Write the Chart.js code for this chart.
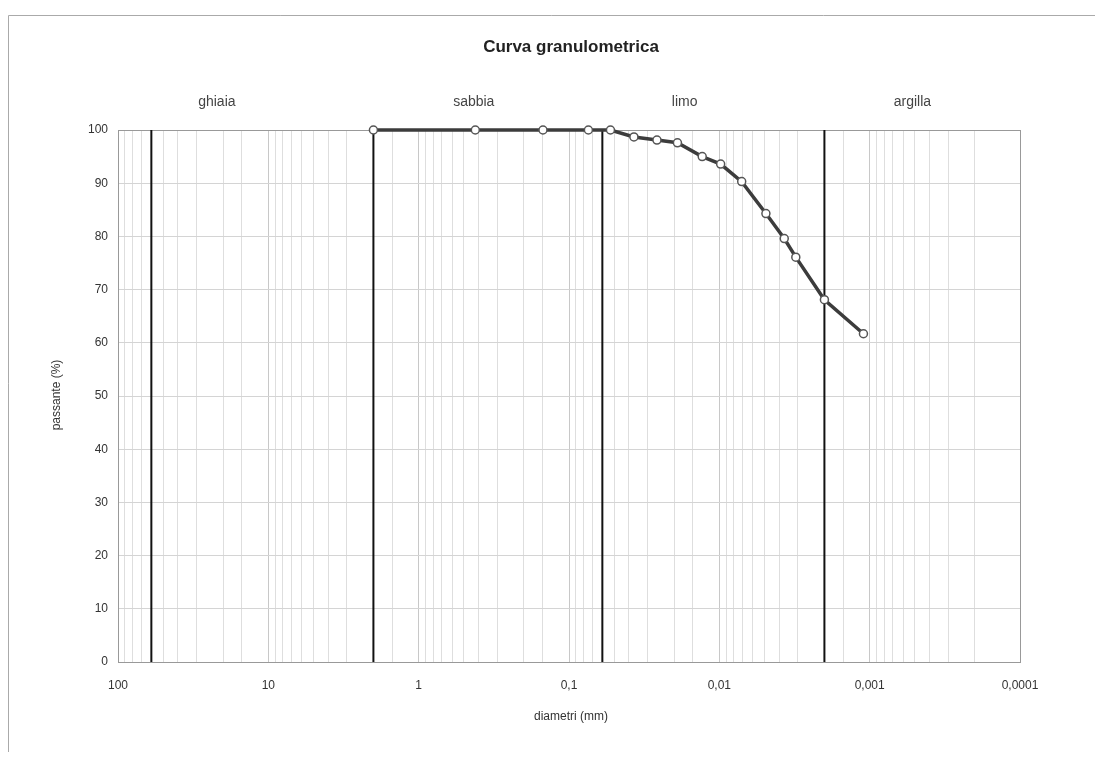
<!DOCTYPE html>
<html>
<head>
<meta charset="utf-8">
<script src="https://cdn.jsdelivr.net/npm/chart.js@4.4.1/dist/chart.umd.min.js"></script>
<style>
html,body{margin:0;padding:0;background:#fff;}
#wrap{width:1107px;height:767px;position:relative;}
</style>
</head>
<body>
<div id="wrap"><canvas id="c" width="1107" height="767"></canvas></div>
<script>
// ---- data ----
const diameters = [2, 0.42, 0.149, 0.0743, 0.053, 0.037, 0.026, 0.019, 0.013, 0.0098, 0.0071, 0.0049, 0.0037, 0.0031, 0.0020, 0.0011];
const passante  = [100, 100, 100, 100, 100, 98.7, 98.1, 97.6, 95.0, 93.6, 90.3, 84.3, 79.6, 76.1, 68.1, 61.7];
const boundaries = [60, 2, 0.06, 0.002];
const classNames = ['ghiaia', 'sabbia', 'limo', 'argilla'];
const classLabelPos = [22, 0.43, 0.017, 0.00052];
const xTickValues = [100, 10, 1, 0.1, 0.01, 0.001, 0.0001];
const xTickLabels = ['100', '10', '1', '0,1', '0,01', '0,001', '0,0001'];
const yTickStep = 10;
const chartTitle = 'Curva granulometrica';
const xTitle = 'diametri (mm)';
const yTitle = 'passante (%)';

const FONT = '"Liberation Sans", Arial, sans-serif';

const datasets = [];
boundaries.forEach(b => {
  datasets.push({
    data: [{x: b, y: 0}, {x: b, y: 100}],
    borderColor: '#111', borderWidth: 2, pointRadius: 0, tension: 0, order: 2
  });
});
datasets.push({
  data: diameters.map((d, i) => ({x: d, y: passante[i]})),
  borderColor: '#3c3c3c', borderWidth: 3.5, tension: 0,
  pointRadius: 4, pointBackgroundColor: '#fff', pointBorderColor: '#555', pointBorderWidth: 1.5,
  clip: false,
  order: 1
});

const isDecade = v => Math.abs(Math.log10(v) - Math.round(Math.log10(v))) < 1e-6;

const deco = {
  id: 'deco',
  beforeDraw(chart) {
    const ctx = chart.ctx;
    ctx.save();
    ctx.fillStyle = '#fff';
    ctx.fillRect(0, 0, chart.width, chart.height);
    ctx.strokeStyle = '#aaa';
    ctx.lineWidth = 1;
    ctx.beginPath();
    ctx.moveTo(8.5, 752); ctx.lineTo(8.5, 15.5); ctx.lineTo(1095, 15.5);
    ctx.stroke();
    ctx.restore();
  },
  beforeDatasetsDraw(chart) {
    const ctx = chart.ctx;
    const a = chart.chartArea;
    ctx.save();
    ctx.strokeStyle = '#999';
    ctx.lineWidth = 1;
    ctx.strokeRect(a.left + 0.5, a.top + 0.5, a.right - a.left, a.bottom - a.top);
    ctx.restore();
  },
  afterDraw(chart) {
    const ctx = chart.ctx;
    const a = chart.chartArea;
    const xs = chart.scales.x;
    ctx.save();
    ctx.fillStyle = '#222';
    ctx.textAlign = 'center';
    ctx.textBaseline = 'middle';
    ctx.font = 'bold 17px ' + FONT;
    ctx.fillText(chartTitle, (a.left + a.right) / 2 + 2, 47);
    ctx.fillStyle = '#444';
    ctx.font = '14px ' + FONT;
    classNames.forEach((n, i) => {
      ctx.fillText(n, xs.getPixelForValue(classLabelPos[i]), 102);
    });
    ctx.fillStyle = '#333';
    ctx.font = '12px ' + FONT;
    ctx.fillText(xTitle, xs.getPixelForValue(0.1) + 2, 717);
    ctx.translate(57, 395);
    ctx.rotate(-Math.PI / 2);
    ctx.fillText(yTitle, 0, 0);
    ctx.restore();
  }
};

new Chart(document.getElementById('c'), {
  type: 'line',
  data: {datasets},
  plugins: [deco],
  options: {
    responsive: false,
    animation: false,
    events: [],
    layout: {padding: {left: 0, right: 87, top: 130, bottom: 0}},
    plugins: {legend: {display: false}, tooltip: {enabled: false}, title: {display: false}},
    scales: {
      x: {
        type: 'logarithmic',
        reverse: true,
        min: 0.0001, max: 100,
        afterFit: s => { s.height = 105; },
        grid: {
          color: ctx => (ctx.tick && isDecade(ctx.tick.value)) ? '#c8c8c8' : '#dedede',
          lineWidth: 1, drawTicks: false
        },
        border: {display: true, color: '#999'},
        ticks: {
          autoSkip: false, maxRotation: 0, padding: 16,
          color: '#333', font: {family: FONT, size: 12},
          callback: (v) => {
            const i = xTickValues.findIndex(t => Math.abs(Math.log10(t) - Math.log10(v)) < 1e-6);
            return i >= 0 ? xTickLabels[i] : '';
          }
        }
      },
      y: {
        type: 'linear',
        min: 0, max: 100,
        afterFit: s => { s.width = 118; },
        grid: {color: '#d4d4d4', lineWidth: 1, drawTicks: false},
        border: {display: true, color: '#999'},
        ticks: {
          stepSize: yTickStep, padding: 10,
          color: '#333', font: {family: FONT, size: 12}
        }
      }
    }
  }
});
</script>
</body>
</html>
